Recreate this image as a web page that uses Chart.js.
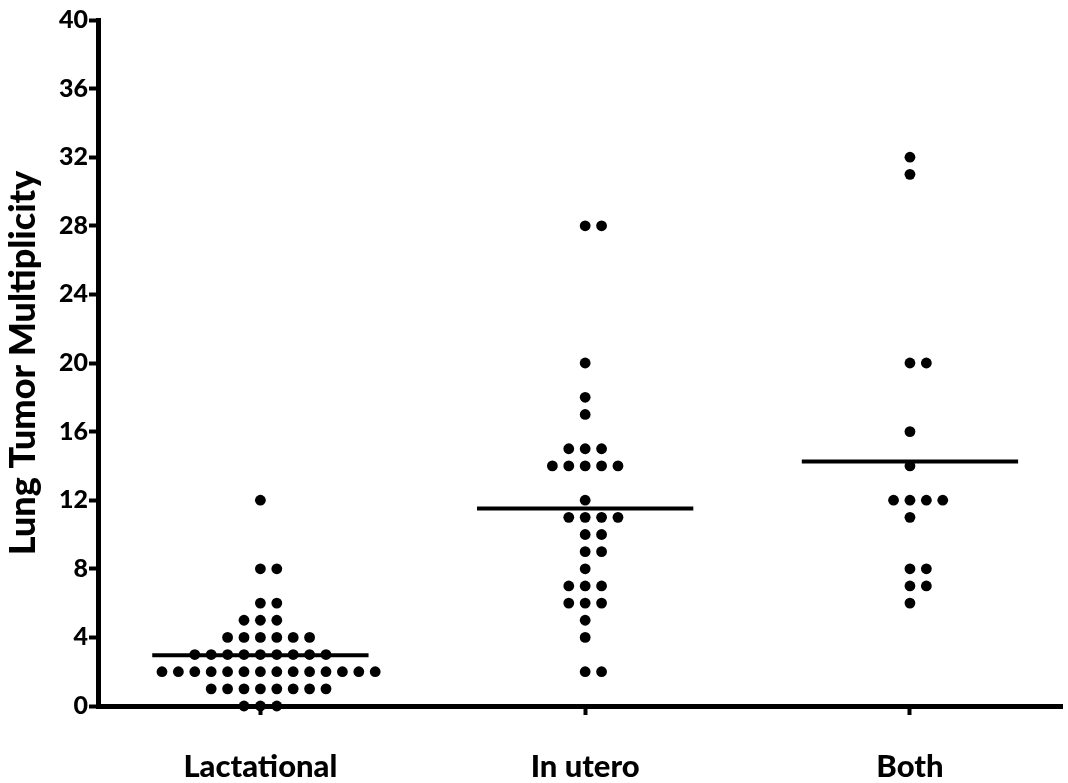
<!DOCTYPE html>
<html>
<head>
<meta charset="utf-8">
<script src="https://cdn.jsdelivr.net/npm/chart.js@4/dist/chart.umd.min.js"></script>
<style>
html, body { margin: 0; padding: 0; background: #fff; }
</style>
</head>
<body>
<canvas id="dotChart" width="1068" height="783"></canvas>
<script>
// groups and the tumor counts
var categories = ["Lactational", "In utero", "Both"];

var lactational = [12, 8, 8, 6, 6, 5, 5, 5,
  4, 4, 4, 4, 4, 4,
  3, 3, 3, 3, 3, 3, 3, 3, 3,
  2, 2, 2, 2, 2, 2, 2, 2, 2, 2, 2, 2, 2, 2,
  1, 1, 1, 1, 1, 1, 1, 1,
  0, 0, 0];
var inUtero = [28, 28, 20, 18, 17, 15, 15, 15, 14, 14, 14, 14, 14,
  12, 11, 11, 11, 11, 10, 10, 9, 9, 8, 7, 7, 7, 6, 6, 6, 5, 4, 2, 2];
var both = [32, 31, 20, 20, 16, 14, 12, 12, 12, 12, 11, 8, 8, 7, 7, 6];

var yTicks = [0, 4, 8, 12, 16, 20, 24, 28, 32, 36, 40];

var groups = [lactational, inUtero, both];

// spread equal values side by side like a column scatter
var step = 0.0505;
function swarm(values, center) {
  var counts = {};
  values.forEach(function (v) { counts[v] = (counts[v] || 0) + 1; });
  var pts = [];
  Object.keys(counts).forEach(function (k) {
    var n = counts[k];
    var start = n % 2 ? -(n - 1) / 2 : -(n / 2 - 1);
    for (var j = 0; j < n; j++) {
      pts.push({ x: center + (start + j) * step, y: Number(k) });
    }
  });
  return pts;
}

function mean(values) {
  var s = 0;
  values.forEach(function (v) { s += v; });
  return s / values.length;
}

var datasets = [];
groups.forEach(function (g, i) {
  datasets.push({
    type: 'scatter',
    label: categories[i],
    data: swarm(g, i),
    backgroundColor: '#000',
    borderColor: '#000',
    borderWidth: 0,
    pointRadius: 5.4,
    clip: false
  });
  var m = mean(g);
  datasets.push({
    type: 'line',
    label: categories[i] + ' mean',
    data: [{ x: i - 0.333, y: m }, { x: i + 0.333, y: m }],
    borderColor: '#000',
    borderWidth: 4,
    pointRadius: 0,
    fill: false,
    clip: false
  });
});

var ctx = document.getElementById("dotChart").getContext('2d');
var myChart = new Chart(ctx, {
  type: 'scatter',
  data: { datasets: datasets },
  options: {
    responsive: false,
    animation: false,
    layout: { padding: { top: 20, right: 0, left: 0, bottom: 0 } },
    plugins: {
      legend: { display: false },
      tooltip: { enabled: false }
    },
    scales: {
      x: {
        type: 'linear',
        min: -0.5,
        max: 2.47,
        afterBuildTicks: function (s) {
          s.ticks = categories.map(function (c, i) { return { value: i }; });
        },
        afterFit: function (s) { s.height = 77; },
        border: { display: true, color: '#000', width: 5 },
        grid: {
          drawOnChartArea: false,
          drawTicks: true,
          tickLength: 9,
          tickWidth: 4,
          tickColor: '#000'
        },
        ticks: {
          color: '#000',
          padding: 33,
          maxRotation: 0,
          font: { family: 'Lato', size: 31, weight: 900 },
          callback: function (v) { return categories[v]; }
        }
      },
      y: {
        min: 0,
        max: 40,
        afterBuildTicks: function (s) {
          s.ticks = yTicks.map(function (v) { return { value: v }; });
        },
        afterFit: function (s) { s.width = 98; },
        border: { display: true, color: '#000', width: 5 },
        grid: {
          drawOnChartArea: false,
          drawTicks: true,
          tickLength: 9,
          tickWidth: 4,
          tickColor: '#000'
        },
        ticks: {
          color: '#000',
          padding: 1,
          font: { family: 'Lato', size: 25, weight: 900 }
        },
        title: {
          display: true,
          text: 'Lung Tumor Multiplicity',
          color: '#000',
          padding: { top: 2, bottom: 0 },
          font: { family: 'Lato', size: 36, weight: 900 }
        }
      }
    }
  }
});
</script>
</body>
</html>
